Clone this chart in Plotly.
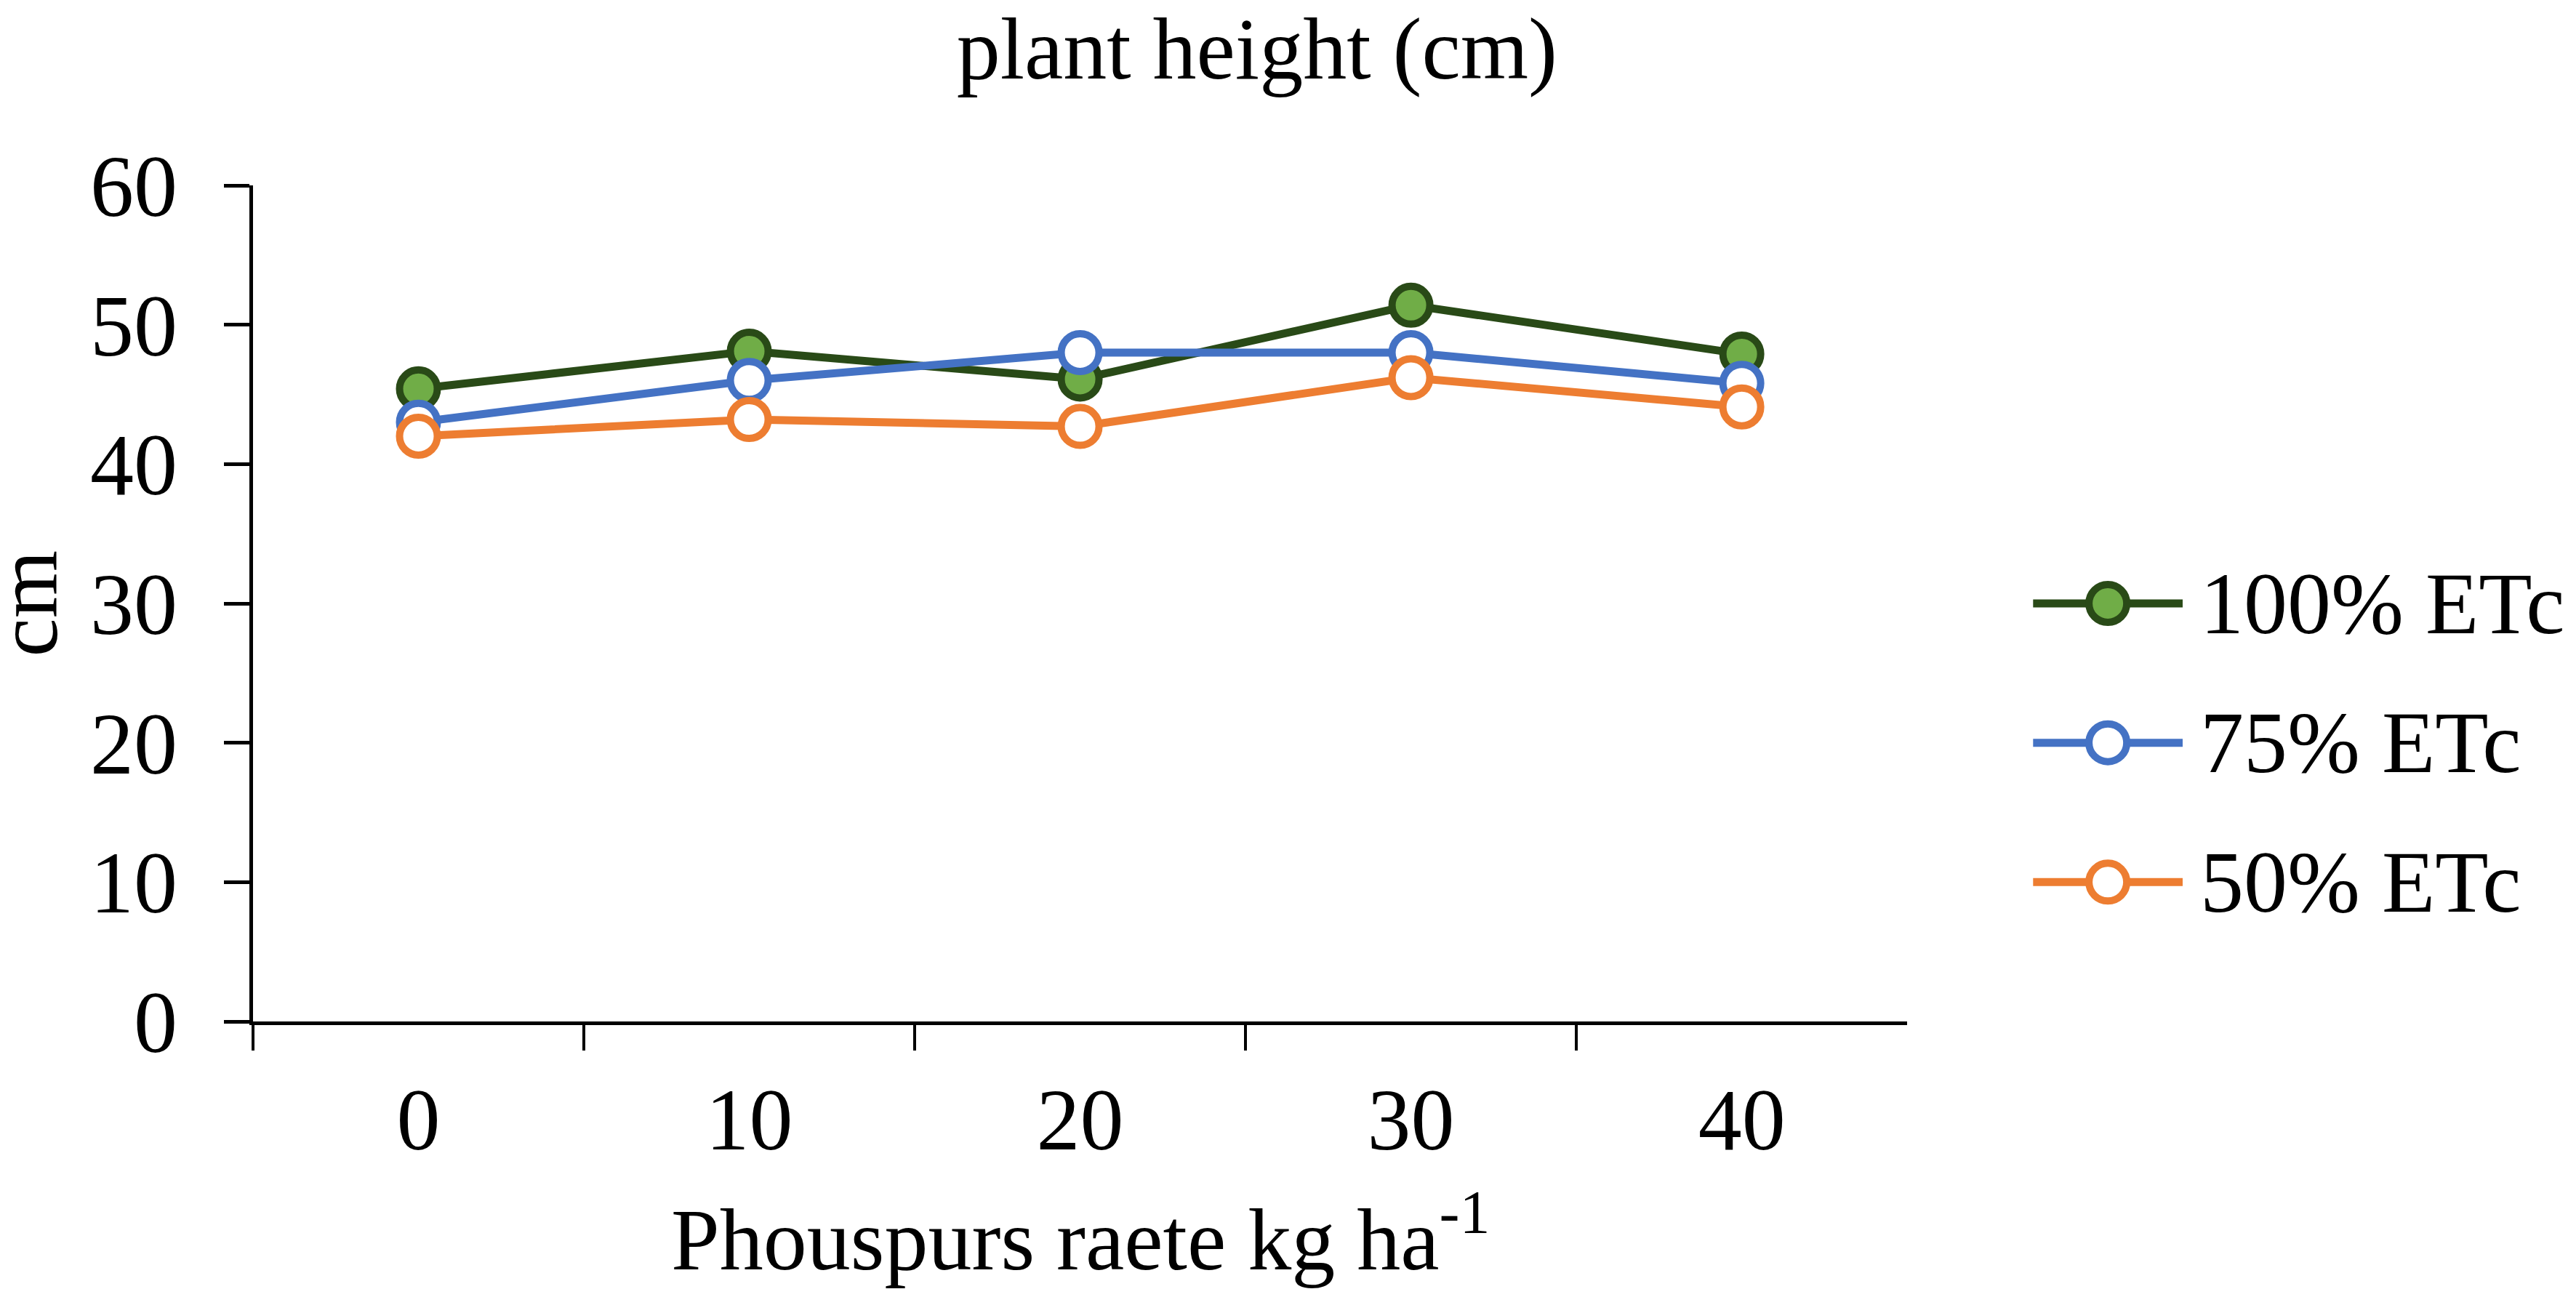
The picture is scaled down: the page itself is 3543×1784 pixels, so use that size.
import plotly.graph_objects as go

# data
phosphorus = ["0", "10", "20", "30", "40"]
series_names = ["100% ETc", "75% ETc", "50% ETc"]
etc_100 = [45.4, 48.1, 46.1, 51.4, 47.9]
etc_75 = [43.0, 46.0, 48.0, 48.0, 45.8]
etc_50 = [42.0, 43.2, 42.7, 46.2, 44.1]

line_colors = ["#294A17", "#4472C4", "#ED7D31"]
fill_colors = ["#70AD47", "#FFFFFF", "#FFFFFF"]

FONT = "Liberation Serif, Times New Roman, serif"
W, H = 3543, 1784

fig = go.Figure()

for name, vals, lc, fc in zip(series_names, [etc_100, etc_75, etc_50], line_colors, fill_colors):
    fig.add_trace(go.Scatter(
        x=phosphorus, y=vals, name=name, mode="lines+markers",
        line=dict(color=lc, width=11),
        marker=dict(size=52, color=fc, line=dict(color=lc, width=10)),
        cliponaxis=False, showlegend=False,
    ))

# legend drawn on its own small axes so the samples can be Excel-sized
for i, (name, lc, fc) in enumerate(zip(series_names, line_colors, fill_colors)):
    fig.add_trace(go.Scatter(
        x=[0, 1], y=[-i, -i], mode="lines", xaxis="x2", yaxis="y2",
        line=dict(color=lc, width=11), showlegend=False, hoverinfo="skip", cliponaxis=False,
    ))
    fig.add_trace(go.Scatter(
        x=[0.5], y=[-i], mode="markers", xaxis="x2", yaxis="y2",
        marker=dict(size=52, color=fc, line=dict(color=lc, width=10)),
        showlegend=False, hoverinfo="skip", cliponaxis=False,
    ))
    fig.add_annotation(
        x=1, y=-i, xref="x2", yref="y2", text=name, showarrow=False,
        xanchor="left", yanchor="middle", xshift=22,
        font=dict(family=FONT, size=120, color="black"),
    )

fig.add_annotation(
    x=0.5, y=-0.2533, xref="x domain", yref="paper",
    text="Phouspurs raete kg ha<sup>-1</sup>", showarrow=False,
    xanchor="center", yanchor="middle",
    font=dict(family=FONT, size=120, color="black"),
)
fig.add_annotation(
    x=-0.1365, y=0.5, xref="x domain", yref="paper", text="cm", textangle=-90,
    showarrow=False, xanchor="center", yanchor="middle",
    font=dict(family=FONT, size=120, color="black"),
)

fig.update_layout(
    width=W, height=H,
    paper_bgcolor="white", plot_bgcolor="white",
    margin=dict(l=340, r=40, t=247, b=387),
    font=dict(family=FONT, size=120, color="black"),
    title=dict(
        text="plant height (cm)", x=0.4857, xanchor="center",
        y=1 - 58 / H, yanchor="middle",
        font=dict(family=FONT, size=120, color="black"),
    ),
    xaxis=dict(
        domain=[0, 0.7193], type="category", range=[-0.5, 4.5],
        tickson="boundaries", ticks="outside", ticklen=35, tickwidth=4, tickcolor="black",
        showline=True, linecolor="black", linewidth=5, showgrid=False, zeroline=False,
        ticklabelstandoff=27, tickfont=dict(family=FONT, size=120),
    ),
    yaxis=dict(
        range=[0, 60], dtick=10, ticks="outside", ticklen=35, tickwidth=5, tickcolor="black",
        showline=True, linecolor="black", linewidth=5, showgrid=False, zeroline=False,
        ticklabelstandoff=40, tickfont=dict(family=FONT, size=120),
    ),
    xaxis2=dict(domain=[0.7740, 0.8391], range=[0, 1], visible=False, anchor="y2"),
    yaxis2=dict(domain=[0, 1], range=[-3.0, 3.0], visible=False, anchor="x2"),
    showlegend=False,
)

fig.write_html("out.html")
